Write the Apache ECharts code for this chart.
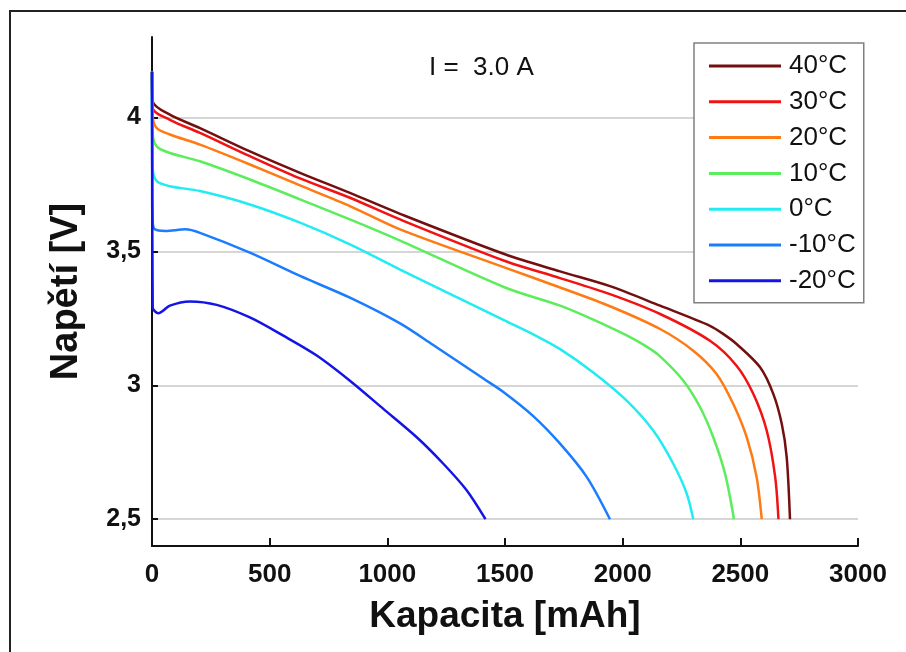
<!DOCTYPE html>
<html>
<head>
<meta charset="utf-8">
<script src="https://cdn.jsdelivr.net/npm/echarts@6/dist/echarts.min.js"></script>
<style>html,body{margin:0;padding:0;background:#fff}#c{width:906px;height:652px}</style>
</head>
<body>
<div id="c"></div>
<script>
const seriesNames = ['40°C', '30°C', '20°C', '10°C', '0°C', '-10°C', '-20°C'];
const seriesColors = ['#730f0f', '#f21212', '#ff7a12', '#5ced5c', '#22ecf2', '#1a7cff', '#1414e6'];
const yTicks = [2.5, 3, 3.5, 4];
const xTicks = [0, 500, 1000, 1500, 2000, 2500, 3000];

// [capacity mAh, voltage V]
const t40 = [[0,4.17],[3,4.06],[76,4.01],[204,3.96],[416,3.873],[629,3.793],[841,3.718],[1054,3.64],[1500,3.489],[1734,3.425],[1946,3.37],[2159,3.297],[2371,3.222],[2430,3.19],[2484,3.154],[2584,3.067],[2640,2.968],[2676,2.856],[2697,2.732],[2711,2.5]];
const t30 = [[0,4.17],[3,4.035],[76,3.991],[204,3.942],[416,3.855],[629,3.772],[841,3.70],[1054,3.619],[1500,3.464],[1734,3.4],[1946,3.34],[2159,3.266],[2371,3.166],[2484,3.073],[2555,2.968],[2612,2.831],[2648,2.658],[2662,2.5]];
const t20 = [[0,4.17],[3,4.004],[20,3.96],[76,3.936],[204,3.898],[416,3.824],[629,3.746],[841,3.669],[1054,3.582],[1500,3.439],[1734,3.365],[1946,3.295],[2159,3.21],[2300,3.129],[2399,3.042],[2470,2.93],[2527,2.806],[2569,2.658],[2591,2.5]];
const t10 = [[0,4.17],[3,3.94],[20,3.892],[76,3.867],[204,3.836],[416,3.768],[629,3.694],[841,3.619],[1054,3.54],[1500,3.365],[1734,3.297],[1875,3.245],[2017,3.186],[2100,3.145],[2159,3.108],[2258,3.017],[2329,2.918],[2385,2.806],[2435,2.67],[2473,2.5]];
const t0 = [[0,4.17],[3,3.81],[20,3.762],[76,3.743],[204,3.725],[416,3.675],[629,3.607],[841,3.526],[1054,3.432],[1500,3.241],[1620,3.19],[1734,3.135],[1875,3.048],[2017,2.943],[2130,2.831],[2215,2.707],[2272,2.596],[2300,2.5]];
const tm10 = [[0,4.17],[3,3.613],[12,3.582],[57,3.576],[142,3.582],[204,3.569],[416,3.495],[629,3.408],[841,3.327],[1054,3.231],[1195,3.15],[1408,3.025],[1493,2.975],[1620,2.885],[1734,2.782],[1847,2.658],[1946,2.5]];
const tm20 = [[0,4.17],[3,3.29],[27,3.269],[76,3.297],[161,3.313],[275,3.30],[416,3.253],[558,3.185],[700,3.111],[841,3.017],[983,2.912],[1125,2.806],[1238,2.707],[1337,2.608],[1417,2.5]];
const seriesData = [t40, t30, t20, t10, t0, tm10, tm20];

const FONT = "'Liberation Sans', Arial, sans-serif";
const chart = echarts.init(document.getElementById('c'), null, {renderer: 'canvas'});
chart.setOption({
  animation: false,
  backgroundColor: '#fff',
  textStyle: {fontFamily: FONT},
  title: {
    text: 'I =  3.0 A', left: 424, top: 50,
    textStyle: {fontFamily: FONT, fontSize: 26, fontWeight: 'normal', color: '#111'}
  },
  graphic: [{
    type: 'rect', shape: {x: 10, y: 11, width: 1000, height: 1000},
    style: {fill: 'none', stroke: '#222', lineWidth: 2}, silent: true, z: 100
  }],
  legend: {
    orient: 'vertical', left: 694, top: 43,
    data: seriesNames,
    icon: 'rect', itemWidth: 72, itemHeight: 3, itemGap: 9.8,
    padding: [10, 8, 9, 15],
    borderColor: '#808080', borderWidth: 1.5, backgroundColor: '#fff',
    textStyle: {fontFamily: FONT, fontSize: 26, lineHeight: 26, color: '#111', padding: [0, 0, 0, 3]}
  },
  grid: {left: 152, right: 48, top: 37, bottom: 106, containLabel: false},
  xAxis: {
    type: 'value', min: 0, max: 3000, interval: 500,
    name: 'Kapacita [mAh]', nameLocation: 'middle', nameGap: 52,
    nameTextStyle: {fontFamily: FONT, fontSize: 37, fontWeight: 'bold', color: '#111'},
    axisLine: {show: true, onZero: false, lineStyle: {color: '#111', width: 2}},
    axisTick: {show: true, inside: true, length: 8, customValues: xTicks, lineStyle: {color: '#111', width: 2}},
    axisLabel: {margin: 16, customValues: xTicks, fontFamily: FONT, fontSize: 26, fontWeight: 'bold', color: '#111',
      formatter: v => String(v)},
    splitLine: {show: false}
  },
  yAxis: {
    type: 'value', min: 2.4, max: 4.3,
    name: 'Napětí [V]', nameLocation: 'middle', nameGap: 66,
    nameTextStyle: {fontFamily: FONT, fontSize: 38, fontWeight: 'bold', color: '#111'},
    axisLine: {show: true, onZero: false, lineStyle: {color: '#111', width: 2}},
    axisTick: {show: true, inside: true, length: 6, customValues: yTicks, lineStyle: {color: '#111', width: 2}},
    axisLabel: {margin: 11, customValues: yTicks, fontFamily: FONT, fontSize: 25, fontWeight: 'bold', color: '#111',
      formatter: v => String(v).replace('.', ',')},
    splitLine: {show: true, lineStyle: {color: '#d6d6d6', width: 2}}
  },
  series: seriesNames.map((n, i) => ({
    name: n, type: 'line', data: seriesData[i],
    color: seriesColors[i],
    showSymbol: false, symbol: 'none',
    smooth: 0.3,
    lineStyle: {width: 2.5, color: seriesColors[i]},
    z: 2 + i
  }))
});
</script>
</body>
</html>
